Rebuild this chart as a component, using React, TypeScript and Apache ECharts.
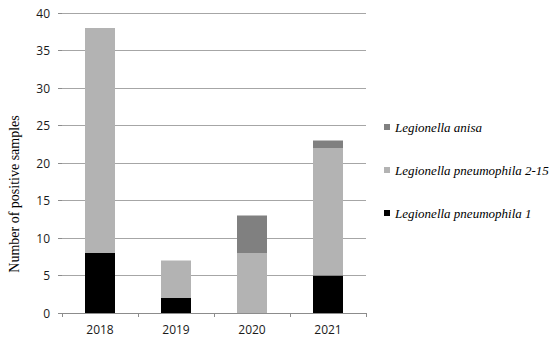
import React, { useEffect, useRef } from "react";
import * as echarts from "echarts";

const years = ["2018", "2019", "2020", "2021"];
const lp1 = [8, 2, 0, 5];
const lp215 = [30, 5, 8, 17];
const anisa = [0, 0, 5, 1];
const yTicks = { min: 0, max: 40, interval: 5 };
const yTitle = "Number of positive samples";

const NAME_LP1 = "Legionella pneumophila 1";
const NAME_LP215 = "Legionella pneumophila 2-15";
const NAME_ANISA = "Legionella anisa";

export default function App() {
  const ref = useRef<HTMLDivElement>(null);
  useEffect(() => {
    const chart = echarts.init(ref.current!, null, { renderer: "svg" });
    const barW = 30;
    chart.setOption({
      animation: false,
      backgroundColor: "#ffffff",
      grid: { left: 62, right: 184, top: 13, bottom: 29, containLabel: false },
      legend: {
        orient: "vertical",
        left: 379,
        top: 114,
        itemWidth: 6,
        itemHeight: 6,
        itemGap: 27,
        icon: "rect",
        data: [NAME_ANISA, NAME_LP215, NAME_LP1],
        textStyle: {
          fontFamily: "Liberation Serif",
          fontStyle: "italic",
          fontSize: 13,
          color: "#000000",
          lineHeight: 16,
        },
      },
      graphic: [
        {
          type: "text",
          x: 14,
          y: 194,
          rotation: Math.PI / 2,
          style: {
            text: yTitle,
            fontFamily: "Liberation Serif",
            fontSize: 14,
            fill: "#000000",
            textAlign: "center",
            textVerticalAlign: "middle",
          },
        },
      ],
      xAxis: {
        type: "category",
        data: years,
        axisLine: { show: true, lineStyle: { color: "#8c8c8c", width: 1 } },
        axisTick: { show: true, length: 4, lineStyle: { color: "#8c8c8c" } },
        axisLabel: {
          margin: 10,
          fontFamily: "Open Sans",
          fontSize: 12,
          color: "#1a1a1a",
        },
      },
      yAxis: {
        type: "value",
        min: yTicks.min,
        max: yTicks.max,
        interval: yTicks.interval,
        axisLine: { show: false },
        axisTick: { show: true, length: 4, lineStyle: { color: "#8c8c8c" } },
        splitLine: { show: true, lineStyle: { color: "#a6a6a6", width: 1 } },
        axisLabel: {
          margin: 12,
          fontFamily: "Open Sans",
          fontSize: 12,
          color: "#1a1a1a",
        },
      },
      series: [
        {
          name: NAME_LP1,
          type: "bar",
          stack: "total",
          data: lp1,
          barWidth: barW,
          itemStyle: { color: "#000000" },
        },
        {
          name: NAME_LP215,
          type: "bar",
          stack: "total",
          data: lp215,
          barWidth: barW,
          itemStyle: { color: "#b3b3b3" },
        },
        {
          name: NAME_ANISA,
          type: "bar",
          stack: "total",
          data: anisa,
          barWidth: barW,
          itemStyle: { color: "#808080" },
        },
      ],
    });
    return () => chart.dispose();
  }, []);
  return (
    <div
      ref={ref}
      style={{ width: 550, height: 342, position: "absolute", left: 0, top: 0 }}
    />
  );
}
